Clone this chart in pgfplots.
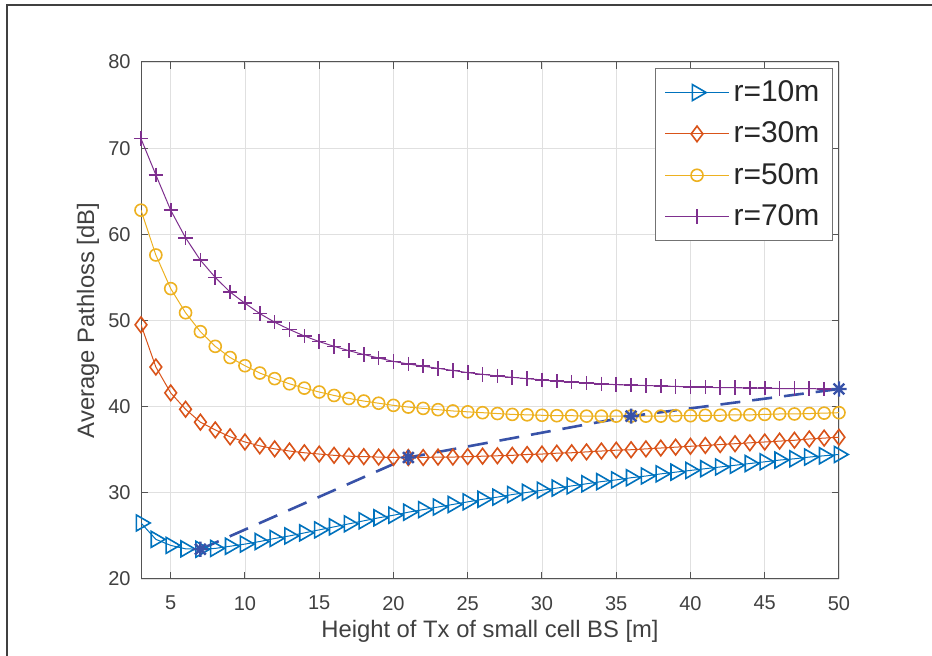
\documentclass[border=0pt]{standalone}
\usepackage{fontspec}
\setmainfont{Liberation Sans}
\usepackage{pgfplots}
\pgfplotsset{compat=1.18}
\usepackage{pgfplotstable}
\definecolor{cA}{rgb}{0,0.447,0.741}
\definecolor{cB}{rgb}{0.85,0.325,0.098}
\definecolor{cC}{rgb}{0.929,0.694,0.125}
\definecolor{cD}{rgb}{0.494,0.184,0.556}
\definecolor{cS}{rgb}{0.22,0.32,0.66}
\definecolor{axc}{rgb}{0.33,0.33,0.33}
\definecolor{txc}{rgb}{0.25,0.25,0.25}

\pgfdeclareplotmark{mstar}{%
  \pgfpathmoveto{\pgfqpoint{-\pgfplotmarksize}{0pt}}\pgfpathlineto{\pgfqpoint{\pgfplotmarksize}{0pt}}%
  \pgfpathmoveto{\pgfqpoint{0pt}{-\pgfplotmarksize}}\pgfpathlineto{\pgfqpoint{0pt}{\pgfplotmarksize}}%
  \pgfpathmoveto{\pgfqpoint{-0.707\pgfplotmarksize}{-0.707\pgfplotmarksize}}\pgfpathlineto{\pgfqpoint{0.707\pgfplotmarksize}{0.707\pgfplotmarksize}}%
  \pgfpathmoveto{\pgfqpoint{-0.707\pgfplotmarksize}{0.707\pgfplotmarksize}}\pgfpathlineto{\pgfqpoint{0.707\pgfplotmarksize}{-0.707\pgfplotmarksize}}%
  \pgfusepathqstroke}

\pgfplotstableread{
x r10 r30 r50 r70
3 26.5 49.5 62.8 71.1
4 24.6 44.6 57.6 66.9
5 23.9 41.6 53.7 62.8
6 23.5 39.7 50.9 59.6
7 23.45 38.2 48.7 57.0
8 23.55 37.3 47.0 55.0
9 23.8 36.5 45.7 53.3
10 24.05 35.9 44.75 52.0
11 24.35 35.45 43.9 50.8
12 24.7 35.1 43.25 49.8
13 25.0 34.85 42.65 48.95
14 25.35 34.65 42.15 48.2
15 25.7 34.5 41.7 47.55
16 26.05 34.35 41.3 47.0
17 26.4 34.25 40.95 46.5
18 26.75 34.2 40.65 46.05
19 27.1 34.15 40.4 45.65
20 27.4 34.1 40.15 45.25
21 27.75 34.1 39.95 44.95
22 28.05 34.1 39.8 44.7
23 28.35 34.15 39.65 44.45
24 28.65 34.15 39.5 44.2
25 28.95 34.2 39.4 43.95
26 29.25 34.25 39.3 43.75
27 29.5 34.3 39.2 43.55
28 29.8 34.35 39.1 43.4
29 30.05 34.45 39.05 43.25
30 30.3 34.5 39.0 43.1
31 30.55 34.6 38.95 42.95
32 30.8 34.65 38.95 42.85
33 31.05 34.75 38.9 42.75
34 31.3 34.85 38.9 42.65
35 31.5 34.95 38.9 42.55
36 31.75 35.0 38.9 42.5
37 31.95 35.1 38.9 42.45
38 32.2 35.2 38.9 42.4
39 32.4 35.3 38.95 42.35
40 32.6 35.4 38.95 42.3
41 32.8 35.5 39.0 42.25
42 33.0 35.6 39.0 42.2
43 33.2 35.7 39.05 42.2
44 33.4 35.8 39.05 42.15
45 33.6 35.9 39.1 42.15
46 33.8 36.0 39.15 42.1
47 33.95 36.1 39.15 42.1
48 34.15 36.25 39.2 42.1
49 34.3 36.35 39.25 42.05
50 34.45 36.45 39.3 42.05
}\datatable

\begin{document}
\begin{tikzpicture}
\useasboundingbox (-70.5pt,-38.5pt) rectangle (395.5pt,289.5pt);
\draw[black!75, line width=0.6pt] (-67pt,-80pt) rectangle (440pt,287pt);
\begin{axis}[
  scale only axis,
  width=349pt, height=258.5pt,
  xmin=3, xmax=50, ymin=20, ymax=80,
  xtick={5,10,...,50}, ytick={20,30,...,80},
  grid=major,
  major grid style={line width=0.4pt, black!12},
  tick align=inside,
  major tick length=3.5pt,
  axis line style={axc, line width=0.5pt},
  every tick/.style={axc, line width=0.5pt},
  /pgf/number format/assume math mode=true,
  ticklabel style={font=\fontsize{10}{12}\selectfont, text=txc},
  xticklabel style={yshift=-5pt},
  yticklabel style={xshift=-1.7pt},
  xlabel={Height of Tx of small cell BS [m]},
  ylabel={Average Pathloss [dB]},
  label style={font=\fontsize{11.9}{14}\selectfont, text=txc},
  xlabel style={at={(axis description cs:0.5,0)}, anchor=center, yshift=-26pt},
  ylabel style={at={(axis description cs:0,0.5)}, anchor=center, yshift=26.5pt},
  legend style={at={(1,1)}, anchor=north east, xshift=-3pt, yshift=-3pt,
    draw=black!55, fill=white, line width=0.6pt,
    font=\fontsize{15}{18}\selectfont, text=black!85,
    row sep=4.7pt, inner xsep=4.5pt, inner ysep=4pt},
  legend cell align=left,
  legend image code/.code={\draw[mark repeat=2,mark phase=2] plot coordinates {(0pt,0pt) (16pt,0pt) (32pt,0pt)};},
]
\addplot[cA, line width=0.5pt, mark=triangle, mark size=4.6pt, mark options={line width=0.8pt, rotate=-90, fill=none}] table[x=x,y=r10] {\datatable};
\addlegendentry{r=10m}
\addplot[cB, line width=0.5pt, mark=diamond, mark size=3.9pt, mark options={line width=0.8pt, fill=none}] table[x=x,y=r30] {\datatable};
\addlegendentry{r=30m}
\addplot[cC, line width=0.5pt, mark=o, mark size=3pt, mark options={line width=0.8pt}] table[x=x,y=r50] {\datatable};
\addlegendentry{r=50m}
\addplot[cD, line width=0.5pt, mark=+, mark size=3.6pt, mark options={line width=0.8pt}] table[x=x,y=r70] {\datatable};
\addlegendentry{r=70m}
\addplot[cS, line width=1.3pt, dash pattern=on 10pt off 6pt, mark=mstar, mark size=3.8pt, mark options={solid, line width=1.2pt}, forget plot] coordinates {(7,23.45) (21,34.1) (36,38.9) (50,42.05)};
\end{axis}
\end{tikzpicture}
\end{document}
